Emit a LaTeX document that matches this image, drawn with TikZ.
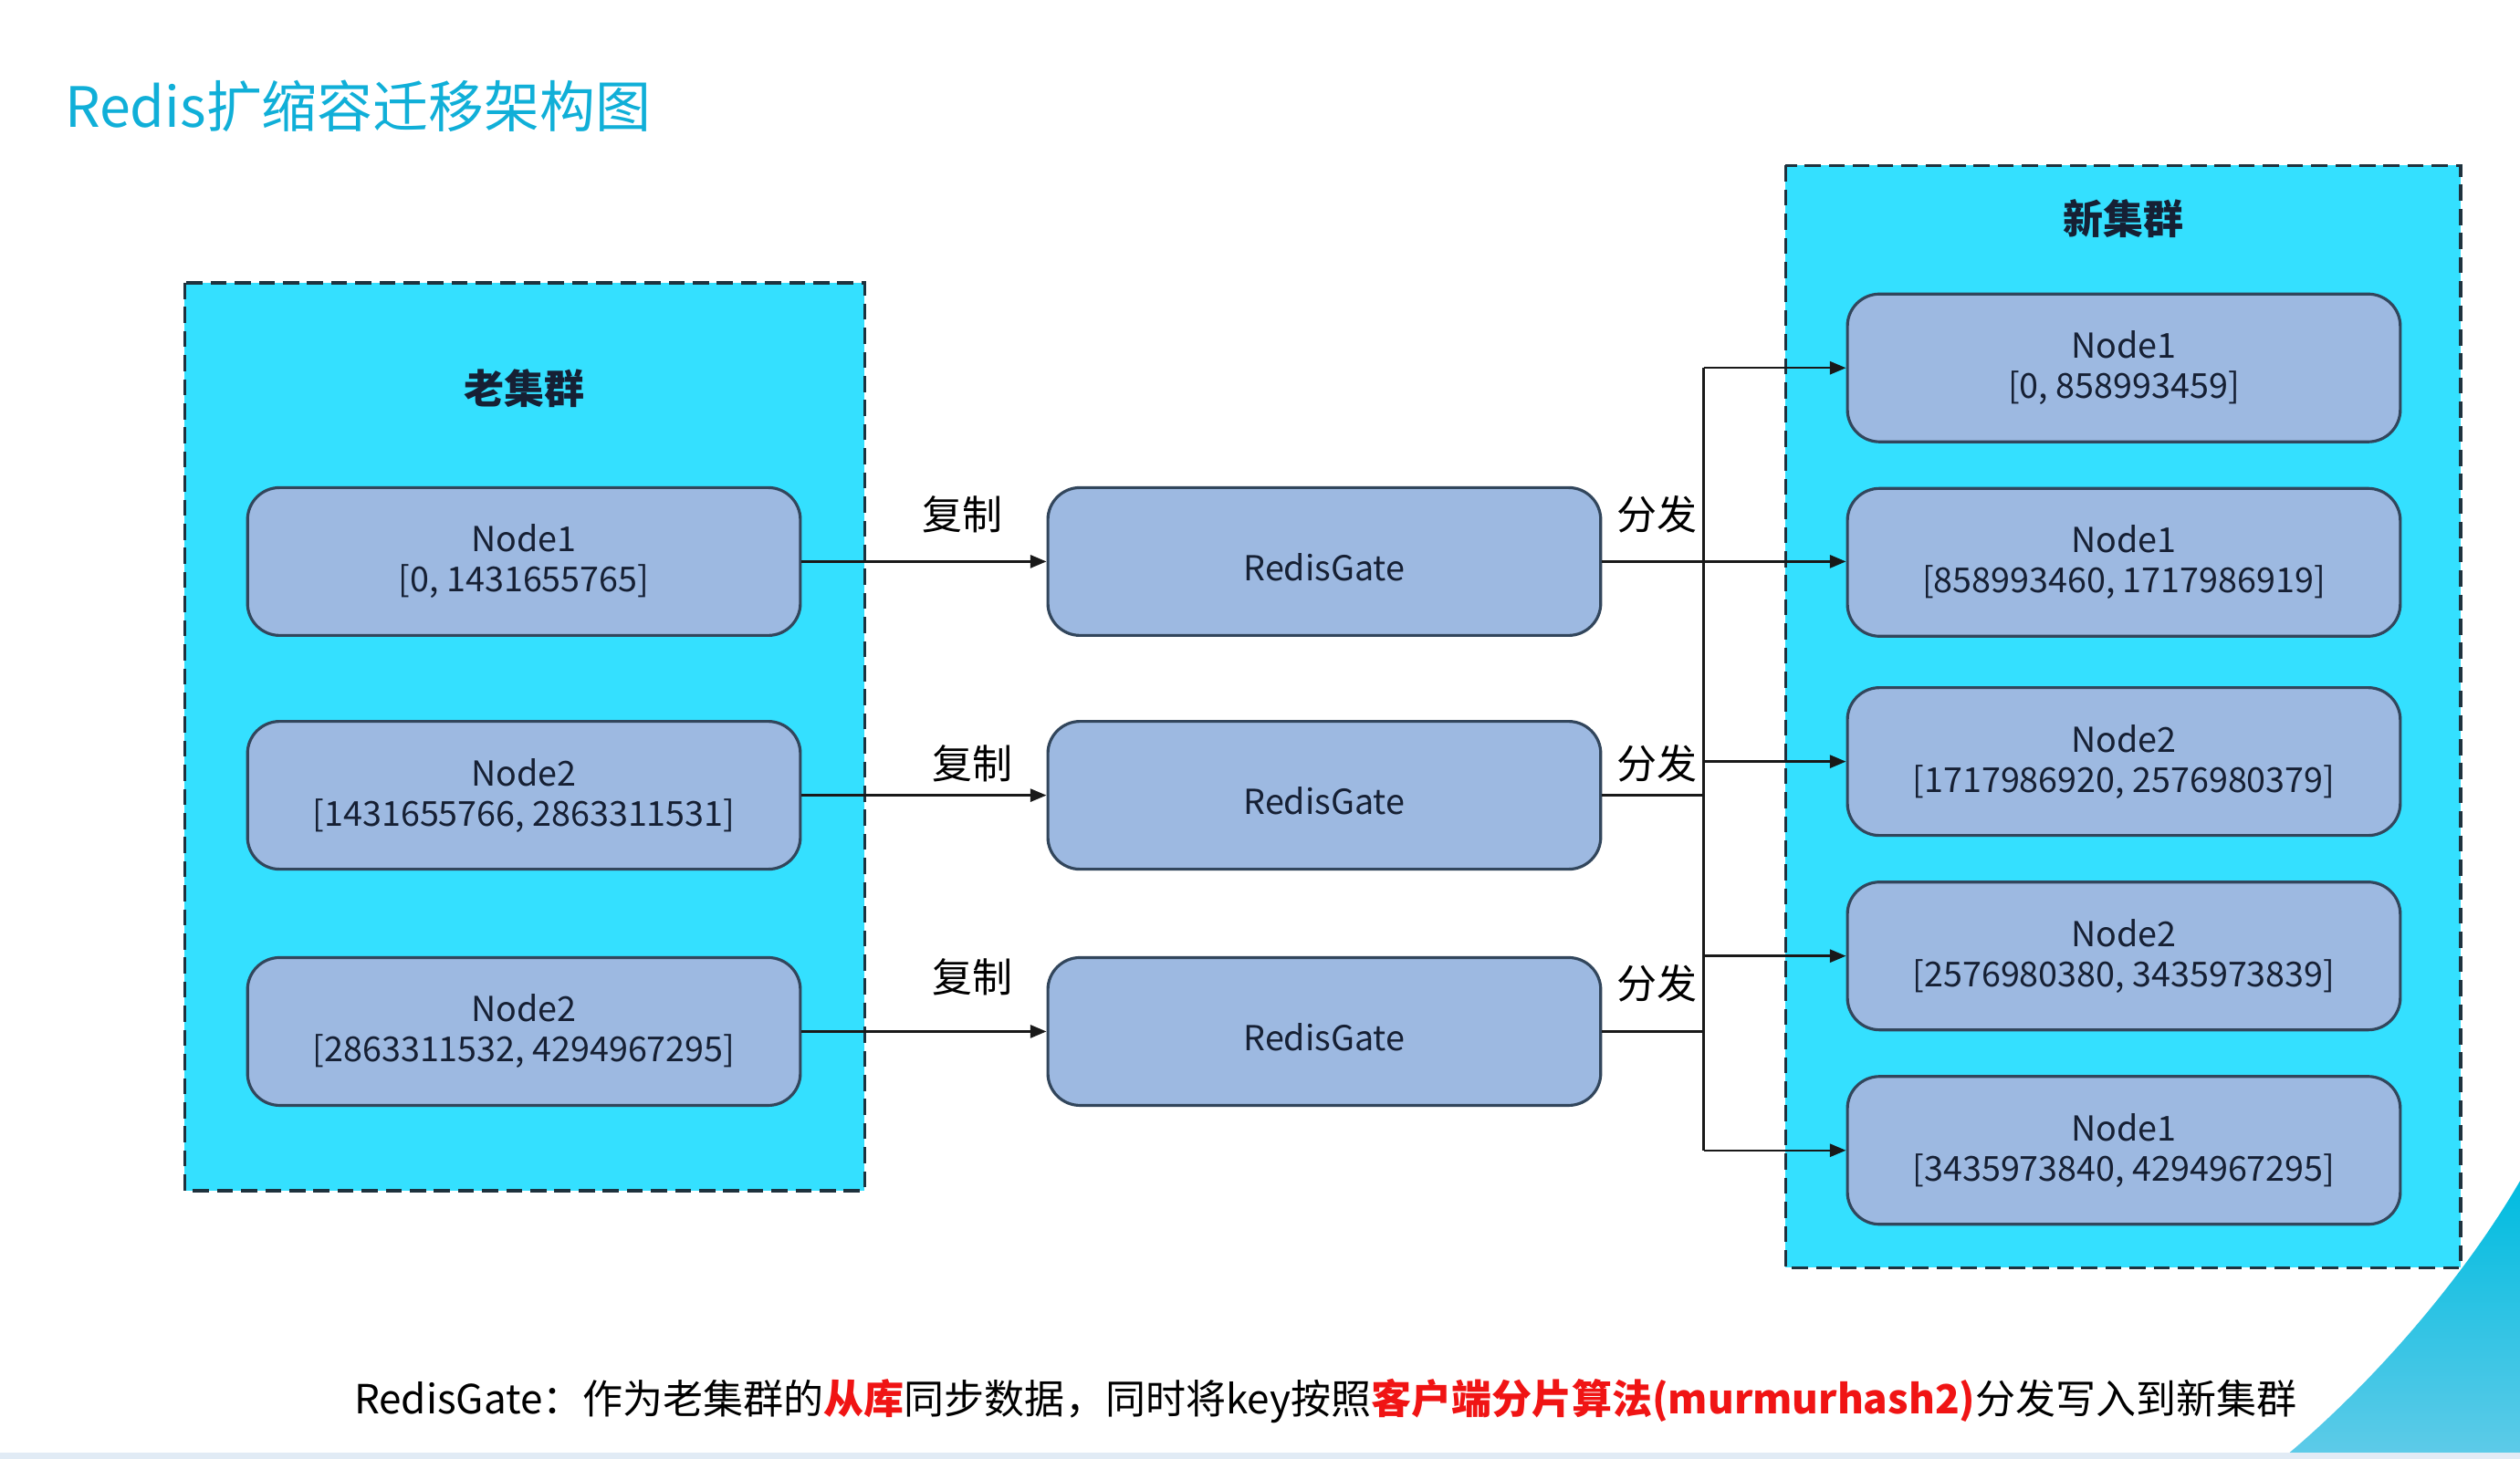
\documentclass[tikz,border=0pt]{standalone}
\usepackage{fontspec}
\setmainfont{Noto Sans CJK SC}
\usetikzlibrary{arrows.meta,calc}
\definecolor{clusterfill}{RGB}{52,224,255}
\definecolor{nodefill}{RGB}{157,185,225}
\definecolor{nodeborder}{RGB}{50,70,92}
\definecolor{dashborder}{RGB}{30,50,62}
\definecolor{titlecol}{RGB}{16,175,216}
\definecolor{txtcol}{RGB}{22,32,52}
\definecolor{redtxt}{RGB}{240,20,20}
\definecolor{arrcol}{RGB}{25,25,25}
\definecolor{decotop}{RGB}{0,188,224}
\definecolor{decobot}{RGB}{95,203,232}
\definecolor{stripcol}{RGB}{225,235,245}
\tikzset{
  cluster/.style={draw=dashborder, fill=clusterfill, line width=1pt, dash pattern=on 5pt off 2.5pt},
  rnode/.style={draw=nodeborder, fill=nodefill, line width=0.9pt, rounded corners=10pt,
    minimum width=172pt, minimum height=46pt, inner sep=0pt, align=center,
    text=txtcol, font=\fontsize{10.7}{12.5}\selectfont,
    execute at begin node={\rule{0pt}{12.2pt}}},
  clabel/.style={font=\fontsize{12.5}{14}\selectfont\bfseries, text=txtcol},
  elabel/.style={font=\fontsize{12.5}{14}\selectfont, text=black},
  arr/.style={draw=arrcol, line width=0.7pt, -{Triangle[length=5pt,width=4pt]}},
  ln/.style={draw=arrcol, line width=0.7pt}
}
\begin{document}
\begin{tikzpicture}[x=0.5pt,y=-0.5pt]
\useasboundingbox (0,0) rectangle (1568,908);
\fill[white] (0,0) rectangle (1568,908);
% decorative corner
\shade[top color=decotop, bottom color=decobot]
  (1568,735) .. controls (1535,792) and (1480,858) .. (1420,908) -- (1568,908) -- cycle;
\fill[stripcol] (0,904) rectangle (1568,908);
% title
\node[anchor=west, text=titlecol, font=\fontsize{17.3}{20}\selectfont, inner sep=0pt] (title) at (40,66) {Redis扩缩容迁移架构图};
% clusters
\path[cluster] (115,176) rectangle (538,741);
\path[cluster] (1111,103) rectangle (1531,789);
\node[clabel] (oldlbl) at (326,242) {老集群};
\node[clabel] (newlbl) at (1321,136) {新集群};
% old nodes
\node[rnode] (o1) at (326,349.5) {Node1\\{[0, 1431655765]}};
\node[rnode] (o2) at (326,495) {Node2\\{[1431655766, 2863311531]}};
\node[rnode] (o3) at (326,642) {Node2\\{[2863311532, 4294967295]}};
% gates
\node[rnode] (g1) at (824,349.5) {RedisGate};
\node[rnode] (g2) at (824,495) {RedisGate};
\node[rnode] (g3) at (824,642) {RedisGate};
% new nodes
\node[rnode] (n1) at (1321.5,229) {Node1\\{[0, 858993459]}};
\node[rnode] (n2) at (1321.5,350) {Node1\\{[858993460, 1717986919]}};
\node[rnode] (n3) at (1321.5,474) {Node2\\{[1717986920, 2576980379]}};
\node[rnode] (n4) at (1321.5,595) {Node2\\{[2576980380, 3435973839]}};
\node[rnode] (n5) at (1321.5,716) {Node1\\{[3435973840, 4294967295]}};
% edge labels
\node[elabel] (c1) at (599,320) {复制};
\node[elabel] (c2) at (605,475) {复制};
\node[elabel] (c3) at (605,608) {复制};
\node[elabel] (f1) at (1031,320) {分发};
\node[elabel] (f2) at (1031,475) {分发};
\node[elabel] (f3) at (1031,612) {分发};
% connectors
\draw[arr] (o1.east) -- (g1.west);
\draw[arr] (o2.east) -- (g2.west);
\draw[arr] (o3.east) -- (g3.west);
\coordinate (bus) at (1060,0);
\draw[arr] (g1.east) -- (g1.east -| n2.west);
\draw[ln] (g2.east) -- (g2.east -| bus);
\draw[ln] (g3.east) -- (g3.east -| bus);
\draw[ln] (bus |- n1.west) -- (bus |- n5.west);
\draw[arr] (bus |- n1.west) -- (n1.west);
\draw[arr] (bus |- n3.west) -- (n3.west);
\draw[arr] (bus |- n4.west) -- (n4.west);
\draw[arr] (bus |- n5.west) -- (n5.west);
% bottom note
\node[anchor=west, inner sep=0pt, font=\fontsize{12.5}{15}\selectfont, text=black] (note) at (220,872)
  {RedisGate：作为老集群的{\color{redtxt}\bfseries 从库}同步数据，同时将key按照{\color{redtxt}\bfseries 客户端分片算法(murmurhash2)}分发写入到新集群};
\end{tikzpicture}
\end{document}
